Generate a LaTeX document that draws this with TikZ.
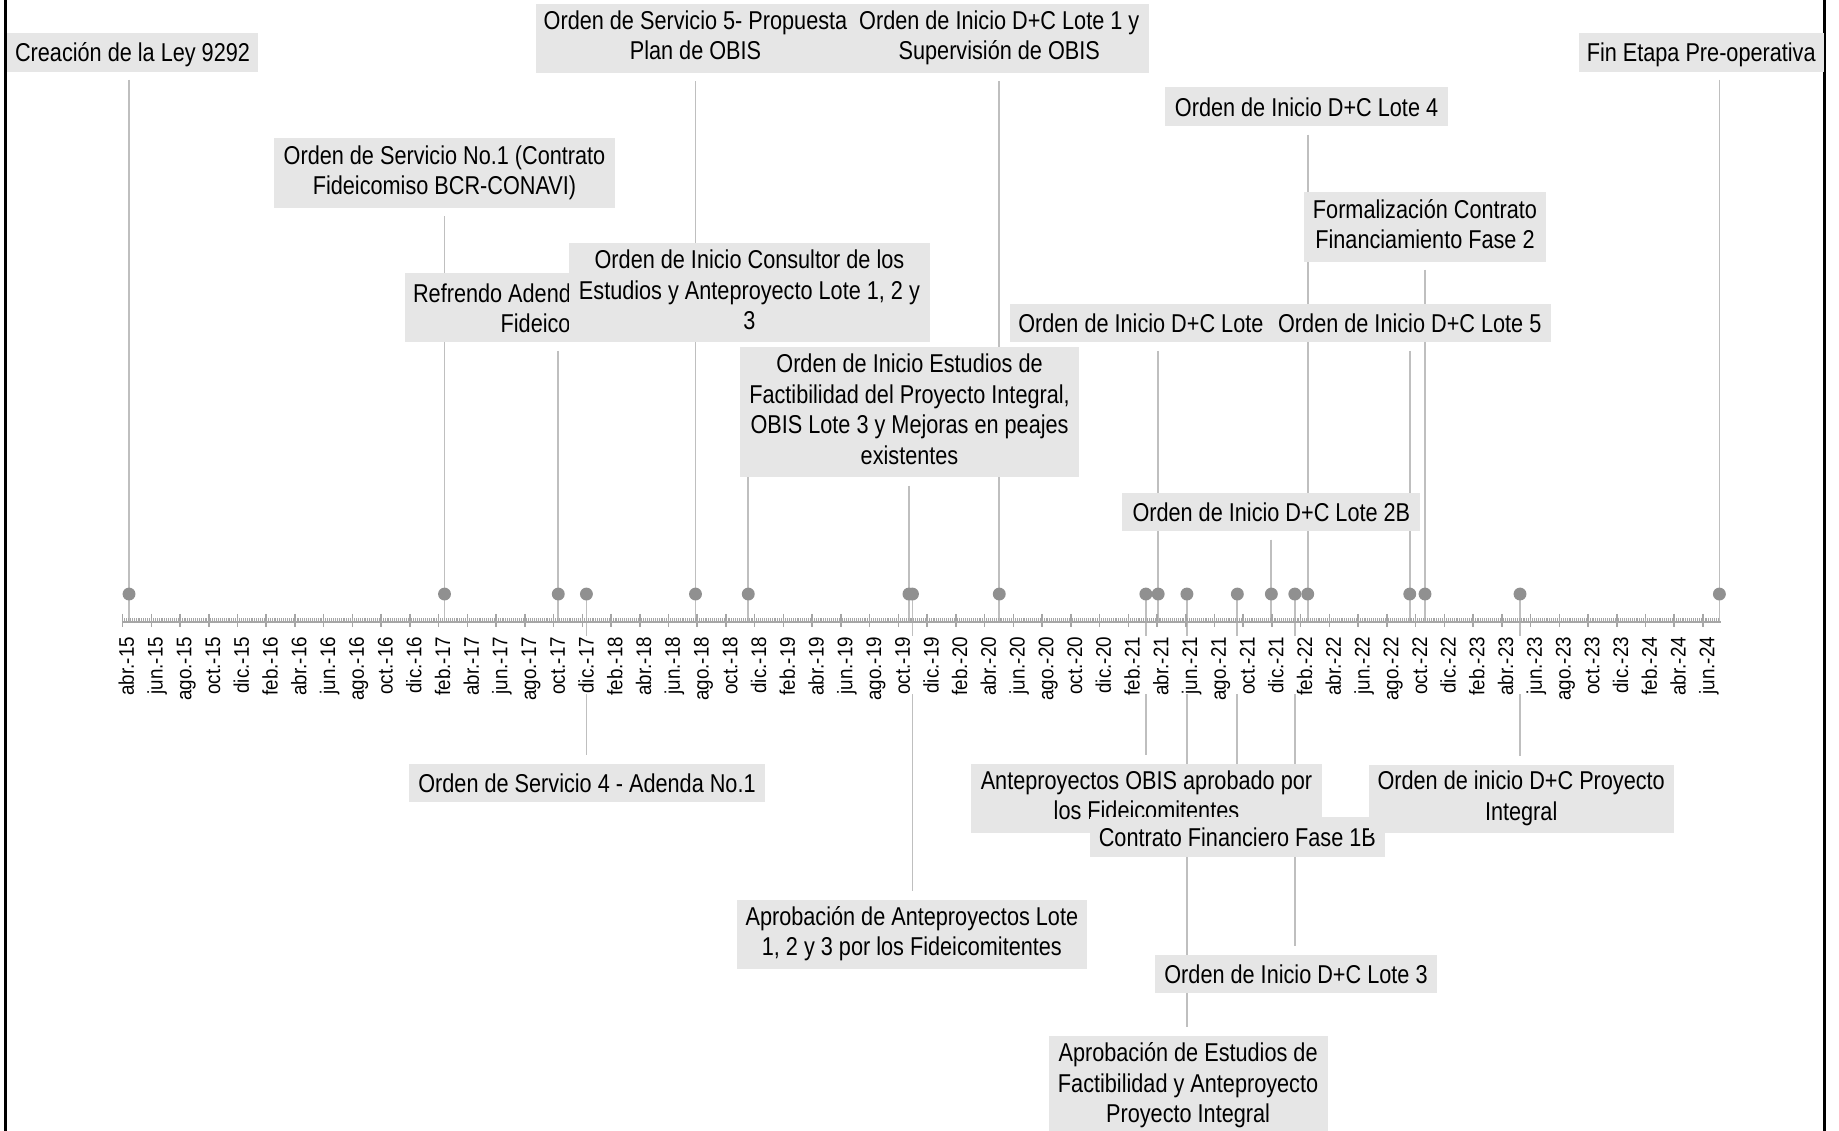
\documentclass[tikz,border=0pt]{standalone}
\usepackage{fontspec}
\setmainfont{Liberation Sans}[FakeStretch=0.84]
\newfontfamily\axisfont{Liberation Sans}[FakeStretch=0.89]
\definecolor{boxgray}{RGB}{230,230,230}
\definecolor{stemgray}{RGB}{191,191,191}
\definecolor{dotgray}{RGB}{144,144,144}
\definecolor{axisgray}{RGB}{166,166,166}
\newcommand\lnstrut{\rule[-5pt]{0pt}{26pt}}
\pgfdeclarelayer{bg}
\pgfsetlayers{bg,main}
\begin{document}
\begin{tikzpicture}[x=1pt,y=-1pt,
  box/.style n args={2}{fill=boxgray, inner sep=0pt, align=center,
    minimum width=#1pt, minimum height=#2pt,
    font=\fontsize{22}{26}\selectfont,
    execute at begin node=\lnstrut, execute at end node=\lnstrut},
  boxtext/.style={inner sep=0pt, anchor=base west, font=\fontsize{22}{26}\selectfont},
  stemline/.style={draw=stemgray, line width=1.5pt},
  evdot/.style={circle, fill=dotgray, inner sep=0pt, minimum size=11pt},
  axlab/.style={rotate=90, anchor=base east, inner sep=0pt,
    font=\axisfont\fontsize{18}{20}\selectfont}]
\useasboundingbox (0,0) rectangle (1568,964);
\clip (0,0) rectangle (1568,964);

% frame sides
\draw[line width=2.3pt] (4.5,0) -- (4.5,964);
\draw[line width=2.3pt] (1555.8,0) -- (1555.8,964);

% axis
\coordinate (ax) at (0,530);
\draw[axisgray, line width=1.8pt] (104,530) -- (1467,530);
\foreach \j in {0,...,833}
  \draw[axisgray, line width=0.6pt] (104.5+\j*1.63333,527.3) -- ++(0,3);
\foreach \i in {0,...,55}
  \draw[axisgray, line width=1.3pt] (104.5+24.5*\i,523.5) -- ++(0,11.5);

% axis labels
\foreach \lab [count=\i from 0] in {abr.-15,jun.-15,ago.-15,oct.-15,dic.-15,
  feb.-16,abr.-16,jun.-16,ago.-16,oct.-16,dic.-16,
  feb.-17,abr.-17,jun.-17,ago.-17,oct.-17,dic.-17,
  feb.-18,abr.-18,jun.-18,ago.-18,oct.-18,dic.-18,
  feb.-19,abr.-19,jun.-19,ago.-19,oct.-19,dic.-19,
  feb.-20,abr.-20,jun.-20,ago.-20,oct.-20,dic.-20,
  feb.-21,abr.-21,jun.-21,ago.-21,oct.-21,dic.-21,
  feb.-22,abr.-22,jun.-22,ago.-22,oct.-22,dic.-22,
  feb.-23,abr.-23,jun.-23,ago.-23,oct.-23,dic.-23,
  feb.-24,abr.-24,jun.-24}
  \node[axlab] (lab\i) at (114.2+24.5*\i,543) {\lab};

% event dots
\node[evdot] (d01) at (110,506.5) {};
\node[evdot] (d02) at (379,506.5) {};
\node[evdot] (d03) at (476,506.5) {};
\node[evdot] (d04) at (500,506.5) {};
\node[evdot] (d05) at (593,506.5) {};
\node[evdot] (d06) at (638,506.5) {};
\node[evdot] (d07) at (775,506.5) {};
\node[evdot] (d08) at (778,506.5) {};
\node[evdot] (d09) at (852,506.5) {};
\node[evdot] (d10) at (977,506.5) {};
\node[evdot] (d11) at (987.5,506.5) {};
\node[evdot] (d12) at (1012,506.5) {};
\node[evdot] (d13) at (1055,506.5) {};
\node[evdot] (d14) at (1084,506.5) {};
\node[evdot] (d15) at (1104,506.5) {};
\node[evdot] (d16) at (1115,506.5) {};
\node[evdot] (d17) at (1202,506.5) {};
\node[evdot] (d18) at (1215,506.5) {};
\node[evdot] (d19) at (1296,506.5) {};
\node[evdot] (d20) at (1466,506.5) {};

% label boxes (above axis)
\node[box={214}{33}] (A) at (113,44.5) {Creación de la Ley 9292};
\node[box={209}{33}] (T) at (1450.5,44.5) {Fin Etapa Pre-operativa};
\node[box={272}{59}] (B) at (593,32.5) {Orden de Servicio 5- Propuesta\\Plan de OBIS};
\node[box={256}{59}] (C) at (852,32.5) {Orden de Inicio D+C Lote 1 y\\Supervisión de OBIS};
\node[box={290}{59}] (D) at (379,147.5) {Orden de Servicio No.1 (Contrato\\Fideicomiso BCR-CONAVI)};
\node[box={262}{59}] (E) at (476,262.5) {};
\node[boxtext] (E1) at (352,257.5) {Refrendo Adend};
\node[boxtext] (E2) at (426.7,283.5) {Fideico};
\node[box={308}{85}] (F) at (639,249.5) {Orden de Inicio Consultor de los\\Estudios y Anteproyecto Lote 1, 2 y\\3};
\node[box={289}{111}] (G) at (775.5,351.5) {Orden de Inicio Estudios de\\Factibilidad del Proyecto Integral,\\OBIS Lote 3 y Mejoras en peajes\\existentes};
\node[box={242}{33}] (H) at (1114,91) {Orden de Inicio D+C Lote 4};
\node[box={206}{59}] (I) at (1215,193.5) {Formalización Contrato\\Financiamiento Fase 2};
\node[box={252}{33}] (J) at (987,275.5) {};
\node[boxtext] (J1) at (868,283.5) {Orden de Inicio D+C Lote};
\node[box={240}{33}] (K) at (1202,275.5) {Orden de Inicio D+C Lote 5};
\node[box={254}{33}] (L) at (1084,436.5) {Orden de Inicio D+C Lote 2B};

% label boxes (below axis)
\node[box={303}{33}] (M) at (500.5,667.5) {Orden de Servicio 4 - Adenda No.1};
\node[box={299}{59}] (N) at (777.5,796.5) {Aprobación de Anteproyectos Lote\\1, 2 y 3 por los Fideicomitentes};
\node[box={299}{59}] (O) at (977.5,680.5) {Anteproyectos OBIS aprobado por\\los Fideicomitentes};
\node[box={252}{34}] (P) at (1055,714) {Contrato Financiero Fase 1B};
\node[box={260}{58}] (S) at (1297,681) {Orden de inicio D+C Proyecto\\Integral};
\node[box={240}{33}] (Q) at (1105,830.5) {Orden de Inicio D+C Lote 3};
\node[box={238}{85}] (R) at (1013,925.5) {Aprobación de Estudios de\\Factibilidad y Anteproyecto\\Proyecto Integral};

% leader lines
\begin{pgfonlayer}{bg}
\fill[white] (0,0) rectangle (1568,964);
\foreach \b/\d in {A/d01,D/d02,E/d03,B/d05,F/d06,G/d07,C/d09,J/d11,L/d14,H/d16,K/d17,I/d18,T/d20}
  \draw[stemline, shorten <=7pt] (\b.south -| \d) -- (\d |- ax);
\foreach \b/\d in {M/d04,N/d08,O/d10,R/d12,P/d13,Q/d15,S/d19}
  \draw[stemline, shorten >=7pt] (\d.center) -- (\b.north -| \d);
\fill[white] (100,542) rectangle (1470,592);
\end{pgfonlayer}
\end{tikzpicture}
\end{document}
